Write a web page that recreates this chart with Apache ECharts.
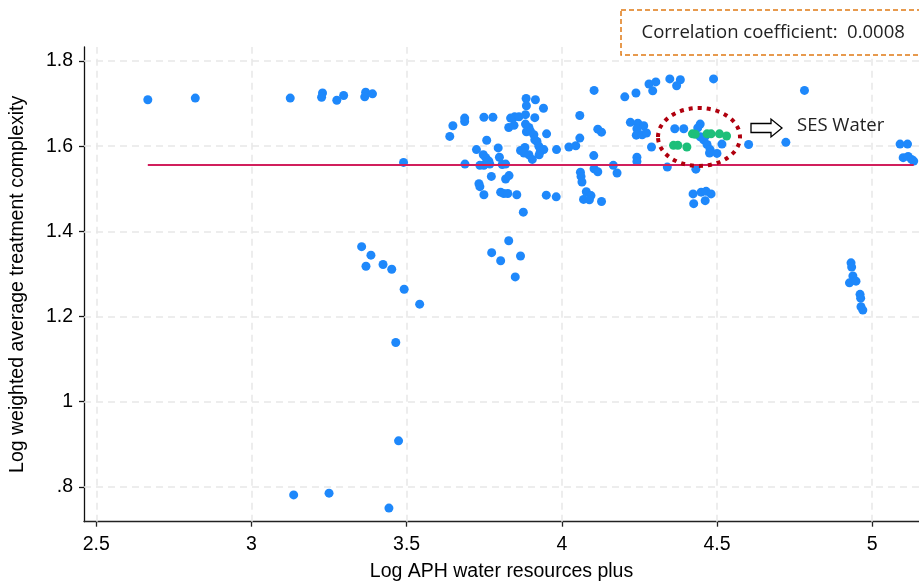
<!DOCTYPE html>
<html><head><meta charset="utf-8">
<script src="https://cdn.jsdelivr.net/npm/echarts@6/dist/echarts.min.js"></script>
<style>html,body{margin:0;padding:0;background:#fff}#c{width:919px;height:587px}</style>
</head><body><div id="c"></div>
<script>
const xTicks = [2.5, 3, 3.5, 4, 4.5, 5];
const yTicks = [0.8, 1.0, 1.2, 1.4, 1.6, 1.8];

const blueX = [2.666,2.819,3.125,3.229,3.226,3.275,3.297,3.368,3.365,3.390,
3.355,3.385,3.369,3.424,3.452,3.492,3.542,3.465,3.474,3.136,3.250,3.443,3.490,
3.639,3.649,3.687,3.687,3.749,3.778,3.688,3.725,3.758,3.747,3.755,3.765,3.736,3.749,3.768,3.795,3.799,3.808,3.819,3.773,3.733,3.736,3.749,3.803,3.813,3.826,3.855,3.819,3.830,3.876,3.829,3.774,3.803,3.867,3.850,3.835,3.848,3.862,3.829,3.846,3.885,3.915,3.886,3.941,3.883,3.913,3.883,3.894,3.886,3.899,3.910,3.913,3.920,3.926,3.931,3.942,3.927,3.951,3.867,3.881,3.878,3.894,3.905,3.983,3.950,3.982,
4.023,4.045,4.058,4.058,4.104,4.116,4.128,4.103,4.104,4.116,4.060,4.062,4.065,4.166,4.178,4.079,4.094,4.070,4.089,4.128,4.203,4.239,4.281,4.303,4.293,4.221,4.245,4.264,4.242,4.240,4.259,4.273,4.289,4.242,4.242,4.340,
4.348,4.382,4.370,4.489,4.364,4.393,4.446,4.438,4.457,4.468,4.478,4.476,4.500,4.516,4.462,4.446,4.432,4.423,4.425,4.449,4.465,4.481,4.462,4.602,4.722,4.782,
4.932,4.934,4.938,4.927,4.948,4.961,4.963,4.964,4.970,5.090,5.114,5.100,5.116,5.127,5.134];

const blueY = [1.709,1.713,1.713,1.725,1.715,1.708,1.719,1.727,1.716,1.723,
1.364,1.344,1.318,1.322,1.311,1.264,1.229,1.139,0.908,0.781,0.785,0.750,1.562,
1.623,1.648,1.666,1.658,1.668,1.668,1.558,1.592,1.614,1.580,1.573,1.565,1.555,1.555,1.558,1.596,1.574,1.557,1.558,1.529,1.512,1.505,1.486,1.492,1.489,1.489,1.486,1.523,1.531,1.445,1.378,1.350,1.331,1.342,1.293,1.666,1.669,1.669,1.644,1.649,1.712,1.709,1.695,1.689,1.674,1.667,1.652,1.644,1.634,1.635,1.627,1.615,1.611,1.600,1.588,1.592,1.580,1.629,1.590,1.597,1.584,1.580,1.569,1.592,1.485,1.481,
1.598,1.601,1.672,1.619,1.731,1.640,1.633,1.578,1.547,1.540,1.539,1.529,1.516,1.555,1.537,1.493,1.484,1.475,1.474,1.470,1.716,1.725,1.746,1.751,1.730,1.656,1.654,1.648,1.641,1.626,1.627,1.631,1.598,1.574,1.564,1.551,
1.758,1.756,1.742,1.758,1.641,1.641,1.652,1.643,1.615,1.604,1.592,1.584,1.583,1.605,1.623,1.622,1.546,1.488,1.465,1.492,1.494,1.488,1.472,1.604,1.609,1.731,
1.326,1.316,1.295,1.279,1.283,1.252,1.243,1.223,1.215,1.605,1.605,1.573,1.576,1.569,1.565];

const sesX = [4.360,4.374,4.403,4.421,4.430,4.468,4.481,4.508,4.531];
const sesY = [1.602,1.602,1.598,1.629,1.628,1.629,1.629,1.629,1.624];

const fitX = [2.666, 5.134];
const fitY = [1.5557, 1.5559];

const corrText = 'Correlation coefficient:  0.0008';
const sesLabel = 'SES Water';
const xTitle = 'Log APH water resources plus';
const yTitle = 'Log weighted average treatment complexity';

const zip = (a, b) => a.map((v, i) => [v, b[i]]);
const fmtY = v => { const s = String(Math.round(v * 10) / 10); return s.startsWith('0.') ? s.slice(1) : s; };
const fmtX = v => String(Math.round(v * 10) / 10);

const chart = echarts.init(document.getElementById('c'), null, {renderer: 'canvas'});
const FONT = 'Liberation Sans, Arial, sans-serif';
const gridStyle = {color: '#e8e8e8', width: 1.5, type: [7, 5]};

chart.setOption({
  animation: false,
  backgroundColor: '#fff',
  grid: {left: 82.7, right: 0, top: 47, bottom: 65.3, containLabel: false},
  xAxis: {
    type: 'value', min: 2.4604, max: 5.151,
    axisLine: {show: true, lineStyle: {color: '#222', width: 1.3}},
    axisTick: {show: true, customValues: xTicks, length: 5, lineStyle: {color: '#222', width: 1.3}},
    axisLabel: {customValues: xTicks, formatter: fmtX, margin: 13, fontSize: 19.5, color: '#000', fontFamily: FONT},
    splitLine: {show: false},
    name: xTitle, nameLocation: 'middle', nameGap: 40,
    nameTextStyle: {fontSize: 19.5, color: '#000', fontFamily: FONT}
  },
  yAxis: {
    type: 'value', min: 0.718, max: 1.833,
    axisLine: {show: true, lineStyle: {color: '#111', width: 1.3}},
    axisTick: {show: true, customValues: yTicks, length: 5, lineStyle: {color: '#111', width: 1.3}},
    axisLabel: {customValues: yTicks, formatter: fmtY, margin: 11, fontSize: 19.5, color: '#000', fontFamily: FONT},
    splitLine: {show: false},
    name: yTitle, nameLocation: 'middle', nameGap: 56,
    nameTextStyle: {fontSize: 19.5, color: '#000', fontFamily: FONT}
  },
  series: [
    {
      type: 'scatter', data: [], z: 1, silent: true,
      markLine: {
        silent: true, z: 1, symbol: ['none', 'none'], label: {show: false},
        lineStyle: gridStyle, emphasis: {disabled: true},
        data: xTicks.map(v => ({xAxis: v})).concat(yTicks.map(v => ({yAxis: v})))
      }
    },
    {
      type: 'scatter', data: zip(blueX, blueY), symbolSize: 9, z: 3,
      itemStyle: {color: '#1e88fb', opacity: 1}
    },
    {
      type: 'scatter', data: zip(sesX, sesY), symbolSize: 9, z: 4,
      itemStyle: {color: '#1dbf7a', opacity: 1}
    },
    {
      type: 'line', data: zip(fitX, fitY), showSymbol: false, symbol: 'none', z: 5,
      lineStyle: {color: '#d11f5c', width: 2}
    }
  ],
  graphic: [
    {type: 'rect', z: 10, shape: {x: 621, y: 10, width: 310, height: 45},
     style: {fill: '#fff', stroke: '#e07a14', lineWidth: 1.5, lineDash: [5, 3]}},
    {type: 'text', z: 11, x: 641.5, y: 33,
     style: {text: corrText, fontSize: 18.5, fontFamily: 'Open Sans', fill: '#222', verticalAlign: 'middle', align: 'left'}},
    {type: 'ellipse', z: 10, shape: {cx: 699, cy: 137, rx: 41, ry: 29},
     style: {fill: null, stroke: '#b0000e', lineWidth: 4, lineDash: [4, 5]}},
    {type: 'polygon', z: 10,
     shape: {points: [[751,123.5],[771,123.5],[771,119],[782,128],[771,137],[771,132.5],[751,132.5]]},
     style: {fill: '#fff', stroke: '#000', lineWidth: 1.3}},
    {type: 'text', z: 11, x: 797, y: 126,
     style: {text: sesLabel, fontSize: 18.5, fontFamily: 'Open Sans', fill: '#222', verticalAlign: 'middle', align: 'left'}}
  ]
});
</script>
</body></html>
